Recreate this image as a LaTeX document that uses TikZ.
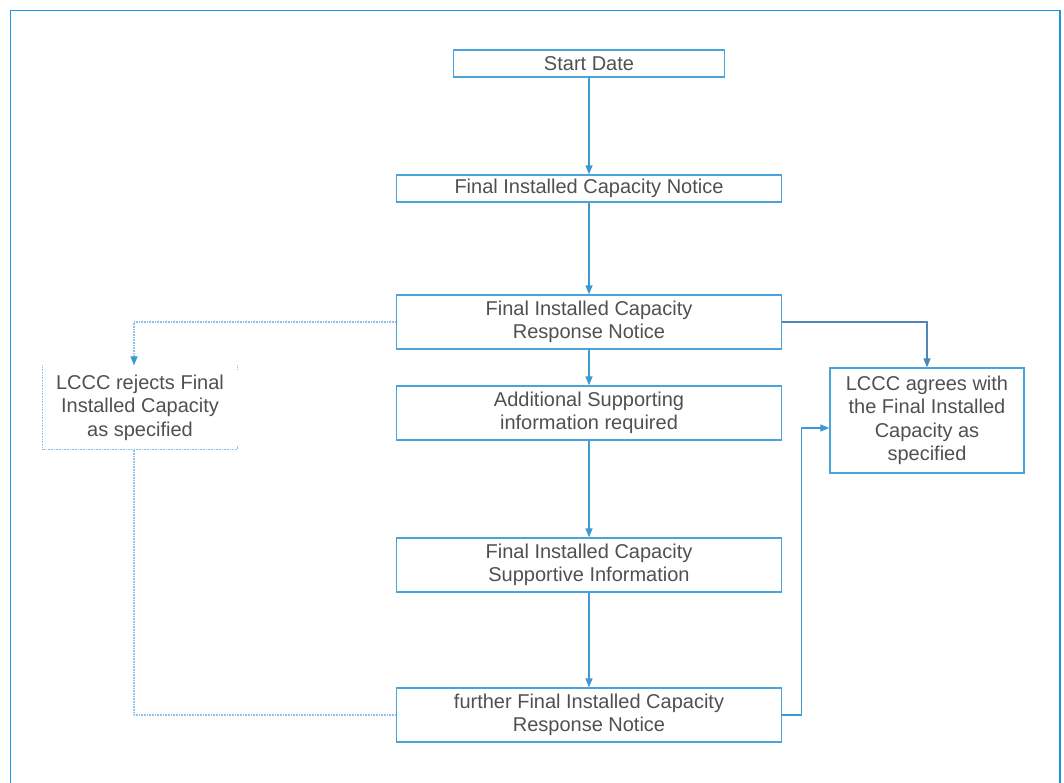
\documentclass[tikz,border=0pt]{standalone}
\usepackage{fontspec}
\setmainfont{Liberation Sans}
\usetikzlibrary{arrows.meta}
\definecolor{frameblue}{HTML}{1A96E2}
\definecolor{boxblue}{HTML}{4BA3DC}
\definecolor{lineblue}{HTML}{3D98D4}
\definecolor{darkline}{HTML}{4F86B5}
\definecolor{dotblue}{HTML}{8CC3E6}
\definecolor{txtgray}{HTML}{505050}
\tikzset{
  stage/.style={draw=boxblue, line width=1.3pt, text=txtgray, align=center,
    inner sep=0pt, minimum width=385pt, minimum height=54pt,
    font=\fontsize{20}{23.5}\selectfont},
  flow/.style={draw=lineblue, line width=1.2pt, -{Triangle[length=9pt,width=7pt]}},
  dotline/.style={draw=dotblue, line width=1.2pt, dash pattern=on 0.8pt off 0.8pt}
}
\begin{document}
\begin{tikzpicture}[x=1pt,y=-1pt]
\useasboundingbox (0,0) rectangle (1064,783);
\draw[frameblue, line width=1.5pt] (10.5,783) -- (10.5,10.5) -- (1060,10.5) -- (1060,783);

% main column
\node[stage, minimum width=271pt, minimum height=27pt] (start) at (589,63.5) {Start Date};
\node[stage, minimum height=27pt] (fic) at (589,188.5) {Final Installed Capacity Notice};
\node[stage] (resp) at (589,322) {Final Installed Capacity\\Response Notice};
\node[stage] (addl) at (589,413) {Additional Supporting\\information required};
\node[stage] (supp) at (589,565) {Final Installed Capacity\\Supportive Information};
\node[stage] (furth) at (589,715) {further Final Installed Capacity\\Response Notice};

% outcomes
\node[stage, draw=none, minimum width=194pt, minimum height=83pt] (reject) at (140,407.5)
  {LCCC rejects Final\\Installed Capacity\\as specified};
\node[stage, minimum width=194pt, minimum height=105pt] (agree) at (927,420.5)
  {LCCC agrees with\\the Final Installed\\Capacity as\\specified};
\draw[dotline] (reject.north west) -- (reject.south west) -- (reject.south east) -- ++(0,-4);
\draw[dotline] (reject.north east) -- ++(0,4);

\draw[flow] (start) -- (fic);
\draw[flow] (fic) -- (resp);
\draw[flow] (resp) -- (addl);
\draw[flow] (addl) -- (supp);
\draw[flow] (supp) -- (furth);
\draw[flow, draw=darkline] (resp.east) -| (agree.north);
\draw[flow] (furth.east) -- ++(19,0) |- ([yshift=-7.5pt]agree.west);
\draw[dotline, -{Triangle[length=9pt,width=7pt,color=lineblue]}]
  (resp.west) -| ([xshift=-6pt]reject.north);
\draw[dotline] ([xshift=-6pt]reject.south) |- (furth.west);
\end{tikzpicture}
\end{document}
